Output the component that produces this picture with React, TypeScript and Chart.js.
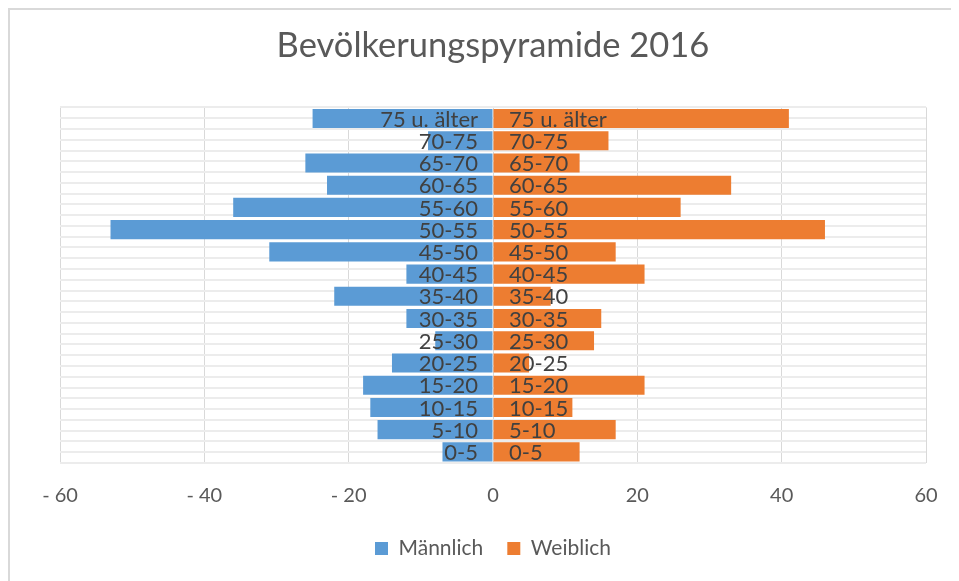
import React, { useEffect, useRef } from "react";
import { Chart, registerables } from "chart.js";

Chart.register(...registerables);

const TITLE = "Bevölkerungspyramide 2016";
const CATEGORIES = [
  "75 u. älter", "70-75", "65-70", "60-65", "55-60", "50-55", "45-50", "40-45",
  "35-40", "30-35", "25-30", "20-25", "15-20", "10-15", "5-10", "0-5",
];
const MALE = [-25, -9, -26, -23, -36, -53, -31, -12, -22, -12, -8, -14, -18, -17, -16, -7];
const FEMALE = [41, 16, 12, 33, 26, 46, 17, 21, 8, 15, 14, 5, 21, 11, 17, 12];
const SERIES_NAMES = ["Männlich", "Weiblich"];
const X_MIN = -60;
const X_MAX = 60;
const X_STEP = 20;

const BLUE = "#5B9BD5";
const ORANGE = "#ED7D31";
const FONT = "Lato";

const centerLabels = {
  id: "centerLabels",
  afterDatasetsDraw(chart: any) {
    const { ctx, scales } = chart;
    const xs = scales.x;
    const ys = scales.y;
    const x0 = xs.getPixelForValue(0);
    ctx.save();
    ctx.font = `22px ${FONT}`;
    ctx.fillStyle = "#404040";
    ctx.textBaseline = "middle";
    CATEGORIES.forEach((c, i) => {
      const y = ys.getPixelForValue(i) + 1;
      ctx.textAlign = "right";
      ctx.fillText(c, x0 - 15, y);
      ctx.textAlign = "left";
      ctx.fillText(c, x0 + 16, y);
    });
    ctx.restore();
  },
};

export default function App() {
  const ref = useRef<HTMLCanvasElement | null>(null);

  useEffect(() => {
    if (!ref.current) return;
    const chart = new Chart(ref.current, {
      type: "bar",
      data: {
        labels: CATEGORIES,
        datasets: [
          {
            label: SERIES_NAMES[0],
            data: MALE,
            backgroundColor: BLUE,
            borderWidth: 0,
            barPercentage: 0.86,
            categoryPercentage: 1,
            yAxisID: "y",
          },
          {
            label: SERIES_NAMES[1],
            data: FEMALE,
            backgroundColor: ORANGE,
            borderWidth: 0,
            barPercentage: 0.86,
            categoryPercentage: 1,
            yAxisID: "y",
          },
        ],
      },
      options: {
        indexAxis: "y",
        responsive: false,
        animation: false,
        layout: { padding: { left: 50, right: 48, top: 0, bottom: 27 } },
        font: { family: FONT },
        scales: {
          x: {
            type: "linear",
            min: X_MIN,
            max: X_MAX,
            stacked: true,
            position: "bottom",
            border: { display: false },
            grid: { color: "#d9d9d9", lineWidth: 1, drawTicks: false },
            ticks: {
              stepSize: X_STEP,
              padding: 21,
              color: "#595959",
              font: { family: FONT, size: 20 },
              callback: (v: any) => (Number(v) < 0 ? "- " + Math.abs(Number(v)) : String(v)),
            },
            afterFit: (s: any) => {
              s.height = 51;
            },
          },
          y: {
            type: "category",
            stacked: true,
            display: false,
          },
          yg: {
            type: "linear",
            position: "left",
            min: 0,
            max: 32,
            display: true,
            border: { display: false },
            grid: { color: "#ececec", lineWidth: 2, drawTicks: false },
            ticks: { display: false, stepSize: 1 },
            afterFit: (s: any) => {
              s.width = 0;
            },
          },
        },
        plugins: {
          title: {
            display: true,
            text: TITLE,
            color: "#595959",
            font: { family: FONT, size: 34.5, weight: "normal" },
            padding: { top: 15, bottom: 41 },
          },
          legend: {
            display: true,
            position: "bottom",
            labels: {
              boxWidth: 13,
              boxHeight: 13,
              padding: 24,
              color: "#595959",
              font: { family: FONT, size: 21 },
            },
          },
          tooltip: { enabled: false },
        },
      },
      plugins: [centerLabels],
    });
    return () => chart.destroy();
  }, []);

  return (
    <div style={{ width: 943, height: 573, overflow: "hidden" }}>
      <div
        style={{
          width: 968,
          height: 600,
          border: "2px solid #d9d9d9",
          boxSizing: "border-box",
          background: "#fff",
        }}
      >
        <canvas ref={ref} width={964} height={586} style={{ display: "block" }} />
      </div>
    </div>
  );
}
